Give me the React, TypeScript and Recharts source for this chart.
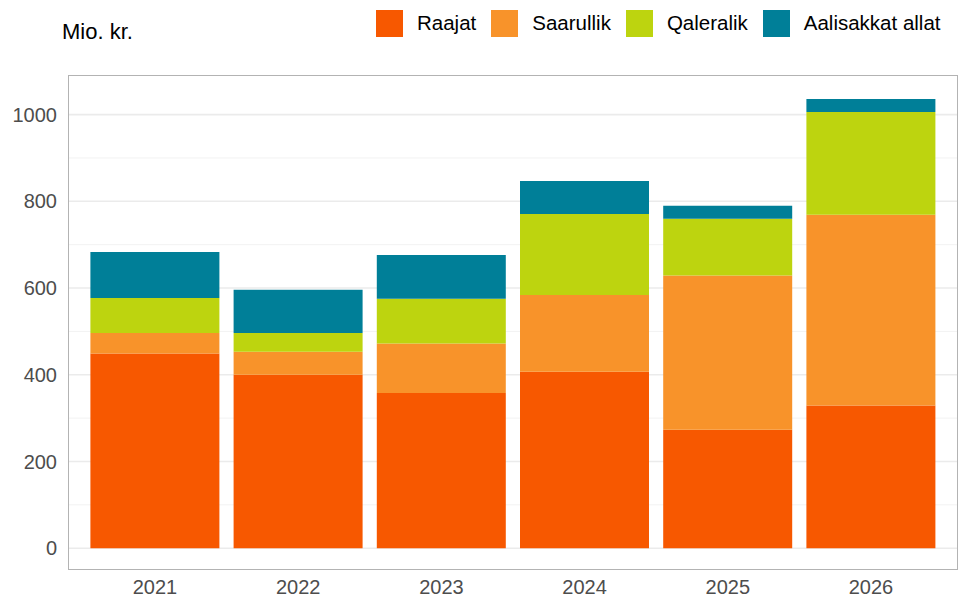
import { Bar, BarChart, CartesianGrid, XAxis, YAxis } from "recharts";

const YEARS = ["2021", "2022", "2023", "2024", "2025", "2026"];
const RAAJAT = [449, 400, 358, 407, 273, 329];
const SAARULLIK = [47, 53, 114, 177, 356, 440];
const QALERALIK = [81, 43, 103, 187, 131, 237];
const AALISAKKAT = [106, 100, 101, 76, 30, 30];

const Y_TICKS = [0, 200, 400, 600, 800, 1000];
const Y_MINOR = [100, 300, 500, 700, 900];

const SERIES = [
  { key: "raajat", label: "Raajat", color: "#F75800" },
  { key: "saarullik", label: "Saarullik", color: "#F8932A" },
  { key: "qaleralik", label: "Qaleralik", color: "#BDD40F" },
  { key: "aalisakkat", label: "Aalisakkat allat", color: "#007F98" },
] as const;

const data = YEARS.map((year, i) => ({
  year,
  raajat: RAAJAT[i],
  saarullik: SAARULLIK[i],
  qaleralik: QALERALIK[i],
  aalisakkat: AALISAKKAT[i],
}));

const FONT = "'Liberation Sans', Arial, Helvetica, sans-serif";

// legend drawn as plain html so it doesn't eat into the plot area
function TopLegend() {
  return (
    <div
      style={{
        position: "absolute",
        left: 376,
        top: 10,
        display: "flex",
        alignItems: "center",
        gap: 15,
        fontSize: 20.5,
        lineHeight: 1,
        color: "#000",
        whiteSpace: "nowrap",
      }}
    >
      {SERIES.map((s) => (
        <div key={s.key} style={{ display: "flex", alignItems: "center", gap: 14 }}>
          <span style={{ width: 27, height: 27, background: s.color, display: "block" }} />
          <span>{s.label}</span>
        </div>
      ))}
    </div>
  );
}

export default function App() {
  return (
    <div style={{ position: "absolute", left: 0, top: 0, width: 962, height: 597, background: "#fff", fontFamily: FONT, overflow: "hidden" }}>
      <div style={{ position: "absolute", left: 62, top: 21, fontSize: 22, lineHeight: 1, color: "#000" }}>Mio. kr.</div>
      <TopLegend />
      <BarChart width={962} height={597} data={data} margin={{ top: 76, right: 5, bottom: 0, left: 0 }} barCategoryGap={7}>
        <CartesianGrid vertical={false} horizontalValues={Y_MINOR} stroke="#F2F2F2" strokeWidth={1} />
        <CartesianGrid vertical={false} horizontalValues={Y_TICKS} stroke="#EBEBEB" strokeWidth={1.6} />
        <XAxis
          dataKey="year"
          height={28}
          padding={{ left: 14.4, right: 14.4 }}
          tickLine={false}
          axisLine={false}
          tickSize={0}
          tickMargin={11}
          tick={{ fontSize: 20, fill: "#4D4D4D", fontFamily: FONT }}
        />
        <YAxis
          width={69}
          type="number"
          domain={[-48, 1089]}
          ticks={Y_TICKS}
          tickLine={false}
          axisLine={false}
          tickSize={0}
          tickMargin={12}
          tick={{ fontSize: 20, fill: "#4D4D4D", fontFamily: FONT }}
          allowDataOverflow
        />
        {SERIES.map((s) => (
          <Bar key={s.key} dataKey={s.key} stackId="a" fill={s.color} isAnimationActive={false} />
        ))}
      </BarChart>
      <div
        style={{
          position: "absolute",
          left: 68,
          top: 75,
          width: 890,
          height: 495,
          boxSizing: "border-box",
          border: "1px solid #B3B3B3",
          pointerEvents: "none",
        }}
      />
    </div>
  );
}
